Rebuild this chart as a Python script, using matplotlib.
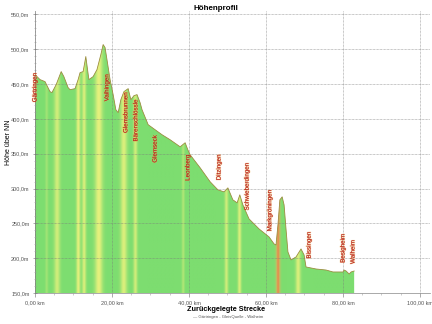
import numpy as np
import matplotlib
matplotlib.use("Agg")
import matplotlib.pyplot as plt
from matplotlib.ticker import MultipleLocator, FuncFormatter
from matplotlib.patches import Polygon
import matplotlib.patheffects as pe

# Elevation profile: distance (km) and height above sea level (m)
dist_km = [0.0, 1.3, 2.6, 3.9, 4.4, 5.5, 6.8, 7.5, 8.6, 9.1, 10.4, 11.2, 11.7, 12.5,
           13.2, 14.0, 15.1, 16.1, 17.1, 17.7, 18.2, 18.7, 19.5, 20.3, 21.0, 21.6,
           22.3, 23.1, 24.2, 24.9, 25.7, 26.5, 27.3, 27.8, 29.4, 31.2, 33.0, 35.1,
           37.7, 39.0, 39.7, 40.3, 42.9, 45.5, 47.5, 49.1, 50.1, 51.4, 52.5, 53.2,
           54.0, 55.6, 58.2, 60.8, 62.1, 62.6, 63.1, 63.6, 64.2, 64.7, 65.2, 65.7,
           66.5, 67.8, 69.1, 69.9, 70.4, 73.0, 75.6, 77.4, 80.0, 80.3, 80.8, 81.6,
           82.1, 82.9]
elev_m = [463.7, 456.5, 453.6, 439.2, 437.8, 449.3, 468.0, 460.8, 445.0, 442.0,
          443.5, 456.5, 466.5, 468.0, 489.6, 456.5, 460.8, 470.9, 492.4, 506.8,
          502.5, 485.2, 456.5, 434.9, 413.3, 409.0, 427.7, 439.2, 443.5, 427.7,
          433.4, 434.9, 423.4, 413.3, 391.7, 384.5, 377.3, 370.1, 360.0, 365.8,
          355.7, 348.5, 329.8, 309.7, 298.2, 295.3, 301.0, 283.8, 279.5, 291.0,
          276.6, 256.4, 242.0, 230.5, 220.5, 219.0, 247.8, 283.8, 288.1, 276.6,
          242.0, 209.0, 197.5, 201.8, 213.3, 204.6, 187.4, 184.5, 183.0, 180.2,
          180.2, 183.0, 181.6, 177.3, 180.2, 181.6]

# Steep sections shaded in the fill: centre (km), width (km), intensity (1 = yellow, 2 = red)
steep_km = [3.0, 5.7, 11.2, 12.7, 16.5, 23.0, 26.0, 38.4, 49.6, 53.0, 63.0, 68.2]
steep_width = [0.7, 1.5, 1.0, 1.0, 2.0, 1.7, 1.0, 0.7, 0.9, 0.9, 1.1, 1.3]
steep_level = [0.35, 0.8, 1.0, 0.9, 1.0, 0.9, 0.8, 0.5, 0.8, 0.9, 2.0, 0.9]

# Places along the route: name, distance (km), top of label (m)
places = ["Gärtringen", "Vaihingen", "Glemsbrunnen", "Bärenschlössle", "Glemseck",
          "Leonberg", "Ditzingen", "Schwieberdingen", "Markgröningen", "Bissingen",
          "Besigheim", "Walheim"]
place_km = [0.0, 18.7, 23.6, 26.2, 31.2, 39.7, 47.8, 55.1, 61.0, 71.2, 80.0, 82.6]
place_top = [466, 464, 438, 428, 377, 349, 349, 337, 298, 238, 235, 226]

x_ticks = [0, 20, 40, 60, 80, 100]
y_ticks = [150, 200, 250, 300, 350, 400, 450, 500, 550]

plt.rcParams['font.family'] = ['Liberation Sans', 'DejaVu Sans']

fig = plt.figure(figsize=(6, 4.5), dpi=72)
ax = fig.add_axes([35 / 432, 1 - 293 / 324, (430 - 35) / 432, (293 - 11) / 324])

ymin, ymax = 150, 555
xmax = 102.6
ax.set_xlim(0, xmax)
ax.set_ylim(ymin, ymax)

# Colour band built from the steep sections
xs = np.linspace(0, dist_km[-1], 1200)
green = np.array([125, 221, 112]) / 255
yellow = np.array([230, 241, 125]) / 255
orange = np.array([236, 178, 96]) / 255
red = np.array([222, 110, 64]) / 255
img = np.tile(green, (len(xs), 1))
for c, w, lv in zip(steep_km, steep_width, steep_level):
    prof = np.exp(-((xs - c) / (w / 2)) ** 2)
    if lv <= 1:
        img = img * (1 - lv * prof[:, None]) + yellow * (lv * prof[:, None])
    else:
        core = np.exp(-((xs - c) / (w / 4)) ** 2)
        img = img * (1 - prof[:, None]) + orange * prof[:, None]
        img = img * (1 - 0.6 * core[:, None]) + red * (0.6 * core[:, None])
img = img[None, :, :]

poly_pts = [(dist_km[0], ymin)] + list(zip(dist_km, elev_m)) + [(dist_km[-1], ymin)]
poly = Polygon(poly_pts, closed=True, facecolor='none', edgecolor='none')
ax.add_patch(poly)
im = ax.imshow(img, extent=[0, dist_km[-1], ymin, ymax], aspect='auto',
               interpolation='bilinear', zorder=1)
im.set_clip_path(poly)

ax.plot(dist_km, elev_m, color='#9a8a3c', lw=0.8, zorder=3, label='Gärtringen - GleisQuelle - Walheim')

# Grid
ax.grid(True, which='major', linestyle=(0, (1, 1)), color='#7a7a7a', lw=0.7, alpha=0.8, zorder=2)
ax.set_axisbelow(False)
for gl in ax.get_xgridlines() + ax.get_ygridlines():
    gl.set_zorder(2)

ax.set_xticks(x_ticks)
ax.set_yticks(y_ticks)
ax.xaxis.set_minor_locator(MultipleLocator(5))
ax.yaxis.set_minor_locator(MultipleLocator(10))
ax.xaxis.set_major_formatter(FuncFormatter(lambda v, p: f"{v:.2f}".replace('.', ',') + " km"))
ax.yaxis.set_major_formatter(FuncFormatter(lambda v, p: f"{v:.1f}".replace('.', ',') + "m"))
ax.tick_params(axis='both', which='major', labelsize=5.5, labelcolor='#555555',
               color='#777777', length=4, width=0.6)
ax.tick_params(axis='both', which='minor', color='#999999', length=2, width=0.5)
ax.tick_params(axis='y', which='both', direction='inout')
ax.tick_params(axis='x', which='both', direction='out')

for s in ['top', 'right']:
    ax.spines[s].set_visible(False)
ax.spines['left'].set_color('#888888')
ax.spines['bottom'].set_color('#888888')
ax.spines['left'].set_linewidth(0.7)
ax.spines['bottom'].set_linewidth(0.7)

# Place names
for name, km, top in zip(places, place_km, place_top):
    ax.text(km, top, name, rotation=90, ha='center', va='top', fontsize=6.2,
            color='#b8201c', zorder=5,
            path_effects=[pe.withStroke(linewidth=1.2, foreground=(0.95, 0.72, 0.35, 0.35))])

fig.text(0.5, 0.985, 'Höhenprofil', ha='center', va='top', fontsize=8, fontweight='bold')
fig.text(0.012, 0.56, 'Höhe über NN', rotation=90, ha='left', va='center', fontsize=7)
fig.text(0.523, 0.045, 'Zurückgelegte Strecke', ha='center', va='center', fontsize=7.3,
         fontweight='bold')
fig.text(0.527, 0.022, '— Gärtringen - GleisQuelle - Walheim', ha='center', va='center',
         fontsize=4.3, color='#555555')

fig.savefig('out.png', dpi=72)
